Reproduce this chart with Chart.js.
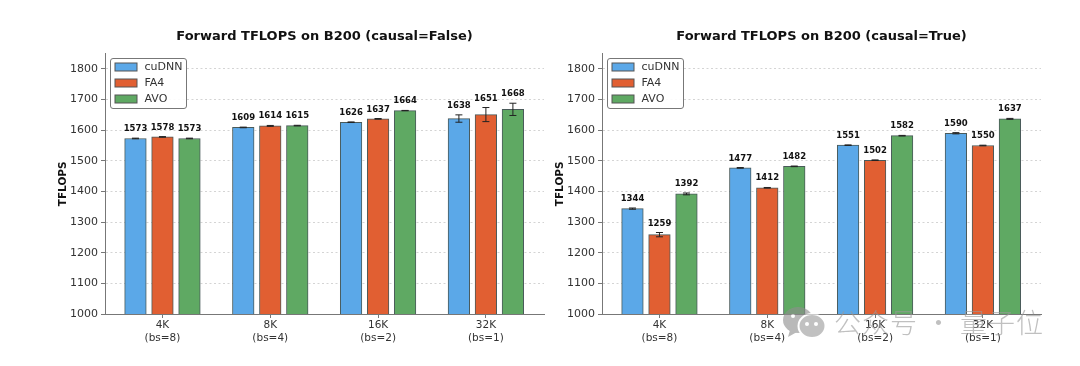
<!DOCTYPE html>
<html><head><meta charset="utf-8">
<script src="https://cdn.jsdelivr.net/npm/chart.js@4"></script>
<style>
html,body{margin:0;padding:0;background:#fff;width:1080px;height:366px;overflow:hidden}
canvas{position:absolute;top:0}
#wrap1,#wrap2{position:absolute;top:0;width:560px;height:366px}
#wrap1{left:0}#wrap2{left:497px}
#wm{position:absolute;left:782px;top:302px;width:280px;height:40px;opacity:.62}
#wmt{position:absolute;left:52px;top:0;font:300 27px "Noto Sans CJK SC",sans-serif;color:#9a9a9a;white-space:nowrap;line-height:40px;letter-spacing:1px}
</style></head><body>
<div id="wrap1"><canvas id="c1" width="560" height="366"></canvas></div>
<div id="wrap2"><canvas id="c2" width="560" height="366"></canvas></div>
<div id="wm">
<svg width="50" height="40" style="position:absolute;left:0;top:0">
<ellipse cx="16" cy="18" rx="15" ry="13" fill="#8f8f8f"/>
<path d="M8 28 L6 35 L15 30 Z" fill="#8f8f8f"/>
<ellipse cx="30" cy="24" rx="13.5" ry="12" fill="#9c9c9c" stroke="#fff" stroke-width="2"/>
<circle cx="25" cy="22" r="2" fill="#fff"/><circle cx="34" cy="22" r="2" fill="#fff"/>
<circle cx="11" cy="14" r="2" fill="#fff"/>
</svg>
<div id="wmt">公众号 · 量子位</div>
</div>
<script>
const categories = [['4K','(bs=8)'],['8K','(bs=4)'],['16K','(bs=2)'],['32K','(bs=1)']];
const seriesNames = ['cuDNN','FA4','AVO'];
const seriesColors = ['#5BA8E8','#E15F32','#5FA963'];
const yTicks = [1000,1100,1200,1300,1400,1500,1600,1700,1800];
const falseCuDNN = [1573,1609,1626,1638];
const falseFA4   = [1578,1614,1637,1651];
const falseAVO   = [1573,1615,1664,1668];
const falseCuDNNErr = [1,1,1,12];
const falseFA4Err   = [1,1.5,1,23];
const falseAVOErr   = [1,1,0.5,20];
const trueCuDNN = [1344,1477,1551,1590];
const trueFA4   = [1259,1412,1502,1550];
const trueAVO   = [1392,1482,1582,1637];
const trueCuDNNErr = [2,1,1,2];
const trueFA4Err   = [7,1,1,1];
const trueAVOErr   = [3,1,1,1.5];

const FONT='"DejaVu Sans"';
const overlay={id:'overlay',afterDatasetsDraw(chart){
  const c=chart.ctx,y=chart.scales.y;
  chart.data.datasets.forEach((ds,i)=>{
    const meta=chart.getDatasetMeta(i);
    meta.data.forEach((bar,j)=>{
      const v=ds.data[j].y,e=ds.errs[j],x=bar.x;
      const t=y.getPixelForValue(v+e),b=y.getPixelForValue(v-e);
      c.save();c.strokeStyle='#222';c.lineWidth=1;c.beginPath();
      c.moveTo(x,t);c.lineTo(x,b);
      c.moveTo(x-3.5,t);c.lineTo(x+3.5,t);
      c.moveTo(x-3.5,b);c.lineTo(x+3.5,b);
      c.stroke();
      c.fillStyle='#111';c.font='bold 8.5px '+FONT;c.textAlign='center';c.textBaseline='alphabetic';
      c.fillText(String(v),x,Math.min(t,y.getPixelForValue(v))-7);
      c.restore();
    });
  });
  const L=chart.chartArea.left+5.5,T=58.5,W=76,H=50;
  c.save();c.fillStyle='rgba(255,255,255,.9)';c.strokeStyle='#777';c.lineWidth=1;
  c.beginPath();c.roundRect(L,T,W,H,2.5);c.fill();c.stroke();
  chart.data.datasets.forEach((ds,i)=>{
    const yy=T+4.5+i*16;
    c.fillStyle=ds.backgroundColor;c.strokeStyle='#555';
    c.fillRect(L+4.5,yy,22,8);c.strokeRect(L+4.5,yy,22,8);
    c.fillStyle='#333';c.font='11px '+FONT;c.textAlign='left';c.textBaseline='middle';
    c.fillText(ds.label,L+34,yy+4);
  });
  c.restore();
}};

function build(id,title,vals,errs){
  new Chart(document.getElementById(id),{
    type:'bar',
    data:{datasets:seriesNames.map((n,i)=>({
      label:n,
      data:vals[i].map((v,j)=>({x:j,y:v})),
      errs:errs[i],
      backgroundColor:seriesColors[i],
      borderColor:'#4a5a5a',borderWidth:1,
      barThickness:27,maxBarThickness:21.6
    }))},
    options:{
      responsive:false,animation:false,
      layout:{padding:{left:57,right:16,top:0,bottom:0}},
      plugins:{
        legend:{display:false},tooltip:{enabled:false},
        title:{display:true,fullSize:false,text:title,color:'#111',font:{family:FONT,weight:'bold',size:13},padding:{top:29,bottom:9}}
      },
      scales:{
        x:{type:'linear',offset:false,min:-0.533,max:3.539,
          afterBuildTicks(s){s.ticks=categories.map((_,i)=>({value:i}));},
          afterFit(s){s.height=52;},
          ticks:{callback:(v)=>categories[v],color:'#333',font:{family:FONT,size:10.5},maxRotation:0,autoSkip:false,padding:1},
          grid:{offset:false,drawOnChartArea:false,drawTicks:true,tickLength:4,tickColor:'#777'},
          border:{color:'#777',width:1}
        },
        y:{type:'linear',min:1000,max:1850,
          afterBuildTicks(s){s.ticks=yTicks.map(v=>({value:v}));},
          afterFit(s){s.width=48;},
          title:{display:true,text:'TFLOPS',color:'#111',font:{family:FONT,weight:'bold',size:10.5},padding:{top:0,bottom:0}},
          ticks:{callback:(v)=>String(v),color:'#333',font:{family:FONT,size:11},padding:3},
          grid:{color:'#d4d4d4',lineWidth:1,tickLength:4,tickColor:'#777',tickBorderDash:[],tickBorderDashOffset:0},
          border:{color:'#777',width:1,dash:[2,2.5]}
        }
      }
    },
    plugins:[overlay,{id:'spine',afterDraw(ch){const c=ch.ctx,a=ch.chartArea;c.save();c.strokeStyle='#777';c.lineWidth=1;c.beginPath();c.moveTo(a.left+.5,a.top);c.lineTo(a.left+.5,a.bottom);c.stroke();c.restore();}}]
  });
}
build('c1','Forward TFLOPS on B200 (causal=False)',[falseCuDNN,falseFA4,falseAVO],[falseCuDNNErr,falseFA4Err,falseAVOErr]);
build('c2','Forward TFLOPS on B200 (causal=True)',[trueCuDNN,trueFA4,trueAVO],[trueCuDNNErr,trueFA4Err,trueAVOErr]);
</script>
</body></html>
